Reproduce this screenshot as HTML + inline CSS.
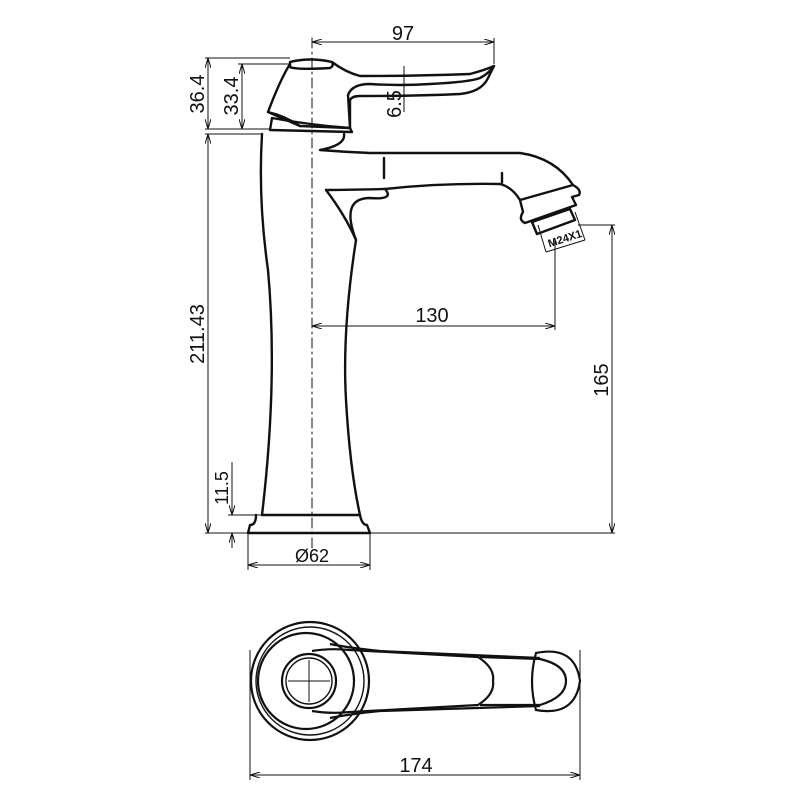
<!DOCTYPE html>
<html><head><meta charset="utf-8"><style>body{margin:0;background:#fff}svg{display:block}text{font-family:"Liberation Sans",sans-serif;fill:#111}</style></head>
<body>
<svg width="800" height="800" viewBox="0 0 800 800" xmlns="http://www.w3.org/2000/svg">
<defs><marker id="a" viewBox="0 0 10 6" refX="10" refY="3" markerWidth="10" markerHeight="6" orient="auto-start-reverse"><path d="M0,0 L10,3 L0,6" fill="none" stroke="#111" stroke-width="1"/></marker></defs>
<g fill="none" stroke="#111" stroke-width="2.4" stroke-linejoin="round" stroke-linecap="round">
<!-- centerline -->
<line x1="312" y1="38" x2="312" y2="548" stroke-width="1" stroke-dasharray="10,4,2,4"/>
<!-- handle -->
<path d="M290,62 Q310,57 332,62 Q334,66 330,68 Q296,70 290,67 Z"/>
<path d="M290,64 Q280,80 268,112 L300,126 L350,128 L348,95 Q352,84 370,84 Q400,86 430,84 Q470,82 480,78 Q488,74 494,66 Q492,70 487,80 Q480,92 460,94 Q420,96 360,96 Q352,96 350,100 L350,128"/>
<path d="M332,62 Q345,72 360,76 Q420,76 470,74 Q485,70 494,66"/>
<path d="M268,112 Q285,116 300,126"/>
<!-- cap ring -->
<path d="M270,130 L272,118 Q310,125 350,128 L352,132 Z"/>
<!-- body left -->
<path d="M262,134 Q258,200 268,270 Q278,380 262,515"/>
<!-- body right with spout -->
<path d="M344,134 Q346,145 320,150 Q345,152 370,153 Q450,153 520,153 Q555,158 573,185"/>
<path d="M384,158 L384,178" />
<path d="M326,190 Q350,190 385,189 Q395,200 370,198 Q340,198 356,240 Q342,330 346,400 Q350,470 360,515"/>
<path d="M326,190 Q345,215 356,240"/>
<path d="M385,189 Q440,183 500,184 Q512,187 520,200"/>
<path d="M502,173 L502,183"/>
<!-- aerator -->
<path d="M520,200 L573,185 Q582,190 579,195 L572,197 L576,205 L525,223 Q518,220 523,212 Z"/>
<path d="M532,222 L570,209 L575,220 L537,234 Z"/>
<!-- base -->
<path d="M262,515 L360,515 Q362,525 367,525 L370,533 L248,533 L250,525 Q256,525 256,515"/>
</g>
<!-- dimension lines -->
<g stroke="#111" stroke-width="1" fill="none">
<line x1="312" y1="42" x2="494" y2="42" marker-start="url(#a)" marker-end="url(#a)"/>
<line x1="494" y1="38" x2="494" y2="64"/>
<line x1="205" y1="58" x2="290" y2="58"/>
<line x1="238" y1="64" x2="290" y2="64"/>
<line x1="205" y1="129" x2="270" y2="129"/>
<line x1="205" y1="134" x2="262" y2="134"/>
<line x1="208" y1="58" x2="208" y2="129" marker-start="url(#a)" marker-end="url(#a)"/>
<line x1="242" y1="64" x2="242" y2="129" marker-start="url(#a)" marker-end="url(#a)"/>
<line x1="404" y1="66" x2="404" y2="112"/>
<line x1="208" y1="134" x2="208" y2="533" marker-start="url(#a)" marker-end="url(#a)"/>
<line x1="205" y1="533" x2="248" y2="533"/>
<line x1="228" y1="515" x2="262" y2="515"/>
<line x1="232" y1="462" x2="232" y2="515" marker-end="url(#a)"/>
<line x1="232" y1="533" x2="232" y2="548" marker-start="url(#a)"/>
<line x1="312" y1="326" x2="555" y2="326" marker-start="url(#a)" marker-end="url(#a)"/>
<line x1="555" y1="240" x2="555" y2="330"/>
<line x1="370" y1="533" x2="615" y2="533"/>
<line x1="578" y1="225" x2="615" y2="225"/>
<line x1="612" y1="225" x2="612" y2="533" marker-start="url(#a)" marker-end="url(#a)"/>
<line x1="248" y1="533" x2="248" y2="570"/>
<line x1="370" y1="533" x2="370" y2="570"/>
<line x1="248" y1="565" x2="370" y2="565" marker-start="url(#a)" marker-end="url(#a)"/>
<line x1="250" y1="650" x2="250" y2="780"/>
<line x1="580" y1="650" x2="580" y2="780"/>
<line x1="250" y1="775" x2="580" y2="775" marker-start="url(#a)" marker-end="url(#a)"/>
<line x1="538" y1="225" x2="546" y2="252"/>
<line x1="575" y1="212" x2="585" y2="240"/>
<line x1="546" y1="252" x2="585" y2="240"/>
</g>
<text x="403" y="40" font-size="20" text-anchor="middle">97</text>
<text x="432" y="322" font-size="20" text-anchor="middle">130</text>
<text x="416" y="772" font-size="20" text-anchor="middle">174</text>
<text x="312" y="562" font-size="18" text-anchor="middle">Ø62</text>
<text transform="translate(204,94) rotate(-90)" font-size="20" text-anchor="middle">36.4</text>
<text transform="translate(238,96) rotate(-90)" font-size="20" text-anchor="middle">33.4</text>
<text transform="translate(401,104) rotate(-90)" font-size="20" text-anchor="middle">6.5</text>
<text transform="translate(204,334) rotate(-90)" font-size="20" text-anchor="middle">211.43</text>
<text transform="translate(228,488) rotate(-90)" font-size="18" text-anchor="middle">11.5</text>
<text transform="translate(608,380) rotate(-90)" font-size="20" text-anchor="middle">165</text>
<text transform="translate(566,242) rotate(-18)" font-size="11" font-weight="bold" text-anchor="middle">M24X1</text>
<!-- top view -->
<g fill="none" stroke="#111" stroke-width="2.2">
<circle cx="310" cy="681" r="59"/>
<circle cx="310" cy="681" r="54" stroke-width="1.4"/>
<circle cx="306" cy="681" r="48"/>
<circle cx="309" cy="681" r="27"/>
<circle cx="309" cy="681" r="23" stroke-width="1.4"/>
<path d="M312,651 Q330,648 350,650 L478,657 Q495,668 493,681 Q495,694 478,705 L350,712 Q330,714 312,711"/>
<path d="M330,644 Q350,648 380,651 L540,658"/>
<path d="M330,718 Q350,714 380,711 L540,706"/>
<path d="M480,657 L540,659 Q566,665 566,681 Q566,697 540,705 L480,705"/>
<path d="M536,653 Q575,645 580,681 Q575,717 536,710 Q528,681 536,653 Z"/>
</g>
<g stroke="#111" stroke-width="1"><line x1="288" y1="681" x2="330" y2="681"/><line x1="309" y1="660" x2="309" y2="702"/></g>
</svg>
</body></html>
